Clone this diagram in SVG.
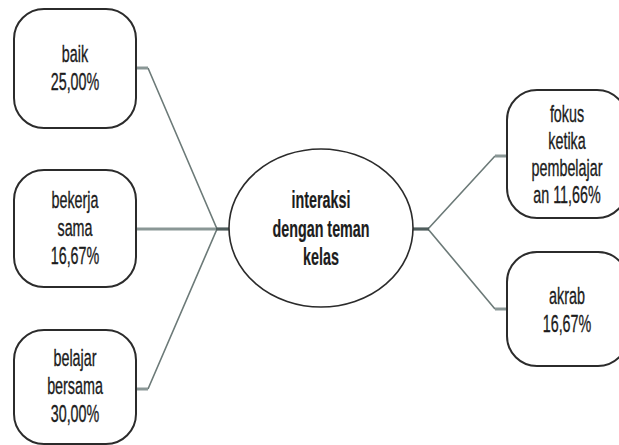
<svg xmlns="http://www.w3.org/2000/svg" width="619" height="445" viewBox="0 0 619 445">
  <style>
    .box { fill: #ffffff; stroke: #2b2b2b; stroke-width: 2; }
    .hub { fill: #ffffff; stroke: #2b2b2b; stroke-width: 1.6; }
    .lbl { font-family: "Liberation Sans", Arial, sans-serif; font-size: 23.5px; fill: #1c1c1c; stroke: #1c1c1c; stroke-width: 0.35; text-anchor: middle; }
    .bold { font-weight: bold; stroke-width: 0.2; }
    .diag { fill: none; stroke: #6c7a78; stroke-width: 1.6; }
    .stub { fill: none; stroke: #8a9796; stroke-width: 3; }
    .trunk { fill: none; stroke: #4f5d5c; stroke-width: 3.2; }
  </style>
  <rect width="619" height="445" fill="#ffffff"/>

  <g id="connectors">
    <!-- left fan -->
    <polyline class="diag" points="148,68 217,229 148,389"/>
    <line class="stub" x1="136" y1="68" x2="148" y2="68"/>
    <line class="stub" x1="136" y1="389" x2="148" y2="389"/>
    <line class="stub" x1="136" y1="229" x2="217" y2="229"/>
    <line class="trunk" x1="216" y1="229" x2="230" y2="229"/>
    <!-- right fan -->
    <polyline class="diag" points="495,156 428,229 495,309"/>
    <line class="stub" x1="495" y1="156" x2="508" y2="156"/>
    <line class="stub" x1="495" y1="309" x2="508" y2="309"/>
    <line class="trunk" x1="412" y1="229" x2="429" y2="229"/>
  </g>

  <g id="node-baik">
    <rect class="box" x="14" y="9" width="122" height="119" rx="30"/>
    <g transform="translate(75 0) scale(0.61 1)">
      <text class="lbl" x="0" y="62">baik</text>
      <text class="lbl" x="0" y="90">25,00%</text>
    </g>
  </g>

  <g id="node-bekerja-sama">
    <rect class="box" x="14" y="170" width="122" height="117" rx="30"/>
    <g transform="translate(75 0) scale(0.61 1)">
      <text class="lbl" x="0" y="208">bekerja</text>
      <text class="lbl" x="0" y="236">sama</text>
      <text class="lbl" x="0" y="264">16,67%</text>
    </g>
  </g>

  <g id="node-belajar-bersama">
    <rect class="box" x="14" y="330" width="122" height="114" rx="30"/>
    <g transform="translate(75 0) scale(0.61 1)">
      <text class="lbl" x="0" y="366">belajar</text>
      <text class="lbl" x="0" y="394">bersama</text>
      <text class="lbl" x="0" y="422">30,00%</text>
    </g>
  </g>

  <g id="node-interaksi">
    <ellipse class="hub" cx="321" cy="228" rx="92" ry="79"/>
    <g transform="translate(321 0) scale(0.61 1)">
      <text class="lbl bold" x="0" y="208">interaksi</text>
      <text class="lbl bold" x="0" y="237">dengan teman</text>
      <text class="lbl bold" x="0" y="265">kelas</text>
    </g>
  </g>

  <g id="node-fokus">
    <rect class="box" x="507" y="90" width="120" height="128" rx="30"/>
    <g transform="translate(567 0) scale(0.61 1)">
      <text class="lbl" x="0" y="122">fokus</text>
      <text class="lbl" x="0" y="149">ketika</text>
      <text class="lbl" x="0" y="176">pembelajar</text>
      <text class="lbl" x="0" y="203">an 11,66%</text>
    </g>
  </g>

  <g id="node-akrab">
    <rect class="box" x="507" y="252" width="121" height="114" rx="30"/>
    <g transform="translate(567 0) scale(0.61 1)">
      <text class="lbl" x="0" y="304">akrab</text>
      <text class="lbl" x="0" y="332">16,67%</text>
    </g>
  </g>
</svg>
